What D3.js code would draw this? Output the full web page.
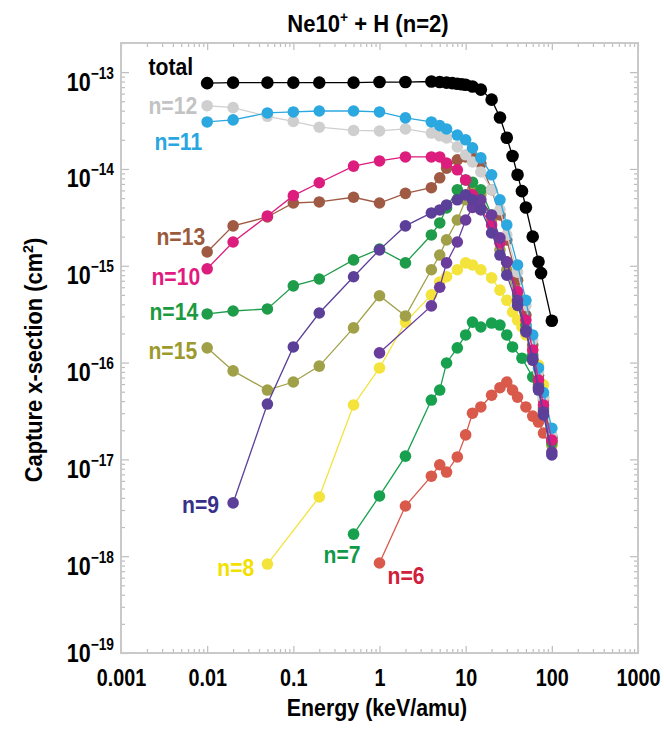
<!DOCTYPE html>
<html>
<head>
<meta charset="utf-8">
<script src="https://cdn.jsdelivr.net/npm/d3@7"></script>
<style>
  body { margin: 0; background: #fff; }
  svg text { font-family: "Liberation Sans", Arial, sans-serif; font-weight: bold; }
</style>
</head>
<body>
<svg id="chart"></svg>
<script>
// values (energy in keV/amu, cross-section in cm^2)
const eTotal = [0.01, 0.02, 0.05, 0.1, 0.2, 0.5, 1, 2, 4, 5, 6, 7, 8, 9, 10, 12, 15, 20, 25, 30, 35, 40, 45, 50, 60, 70, 75, 100];
const sTotal = [7.7e-14, 7.8e-14, 7.8e-14, 7.8e-14, 7.8e-14, 7.8e-14, 7.9e-14, 7.9e-14, 8.0e-14, 7.9e-14, 7.8e-14, 7.7e-14, 7.6e-14, 7.5e-14, 7.4e-14, 7.1e-14, 6.6e-14, 5.2e-14, 3.4e-14, 2.1e-14, 1.36e-14, 8.7e-15, 5.9e-15, 4.0e-15, 2.0e-15, 1.1e-15, 8.4e-16, 2.7e-16];

const eHigh = [0.01, 0.02, 0.05, 0.1, 0.2, 0.5, 1, 2, 4, 5, 6, 8, 10, 12, 15, 20, 25, 30, 40, 50, 60, 70, 80, 100];
const s12 = [4.5e-14, 4.3e-14, 3.5e-14, 3.1e-14, 2.7e-14, 2.5e-14, 2.47e-14, 2.59e-14, 2.35e-14, 2.2e-14, 2.09e-14, 1.69e-14, 1.4e-14, 1.18e-14, 9.3e-15, 6.1e-15, 3.8e-15, 2.08e-15, 8.6e-16, 3.9e-16, 1.71e-16, 8.0e-17, 4.3e-17, 1.79e-17];
const s11 = [3.06e-14, 3.21e-14, 3.79e-14, 3.88e-14, 3.97e-14, 3.97e-14, 3.88e-14, 3.37e-14, 3.06e-14, 2.8e-14, 2.59e-14, 2.24e-14, 2.0e-14, 1.65e-14, 1.3e-14, 8.7e-15, 4.8e-15, 2.64e-15, 1.02e-15, 4.4e-16, 1.93e-16, 8.8e-17, 4.9e-17, 2.1e-17];
const s10 = [9.3e-16, 1.76e-15, 3.27e-15, 5.3e-15, 7.2e-15, 1.07e-14, 1.21e-14, 1.33e-14, 1.33e-14, 1.33e-14, 1.15e-14, 9.8e-15, 7.7e-15, 5.4e-15, 3.8e-15, 2.64e-15, 1.72e-15, 1.09e-15, 5.4e-16, 2.75e-16, 1.35e-16, 6.6e-17, 3.65e-17, 1.58e-17];
const s13 = [1.39e-15, 2.58e-15, 3.19e-15, 4.45e-15, 4.56e-15, 5.1e-15, 4.45e-15, 5.6e-15, 6.4e-15, 8.1e-15, 1.02e-14, 1.24e-14, 1.33e-14, 1.3e-14, 1.13e-14, 6.1e-15, 3.35e-15, 1.85e-15, 7.1e-16, 3.1e-16, 1.52e-16, 7.4e-17, 4.1e-17, 1.66e-17];
const s14 = [3.18e-16, 3.41e-16, 3.58e-16, 6.2e-16, 7.3e-16, 1.15e-15, 1.49e-15, 1.07e-15, 2.08e-15, 2.77e-15, 3.95e-15, 6.1e-15, 7.7e-15, 7.3e-15, 6.1e-15, 3.35e-15, 1.85e-15, 1.09e-15, 5.0e-16, 2.44e-16, 1.2e-16, 5.9e-17, 3.4e-17, 1.51e-17];
const s15 = [1.42e-16, 8.2e-17, 5.2e-17, 6.3e-17, 9.2e-17, 2.28e-16, 4.9e-16, 3.03e-16, 9.1e-16, 1.29e-15, 1.85e-15, 2.97e-15, 4.8e-15, 6.1e-15, 5.4e-15, 2.97e-15, 1.46e-15, 9.1e-16, 4.2e-16, 2.17e-16, 1.06e-16, 5.5e-17, 3.24e-17, 1.41e-17];

const e9 = [0.02, 0.05, 0.1, 0.2, 0.5, 1, 2, 4, 5, 6, 8, 10, 12, 15, 20, 25, 30, 40, 50, 60, 70, 80, 100];
const s9 = [3.55e-18, 3.73e-17, 1.45e-16, 3.25e-16, 7.7e-16, 1.46e-15, 2.58e-15, 3.51e-15, 3.77e-15, 4.25e-15, 4.8e-15, 5.4e-15, 4.8e-15, 3.8e-15, 2.18e-15, 1.29e-15, 8.0e-16, 3.9e-16, 2.07e-16, 1.06e-16, 5.2e-17, 2.88e-17, 1.11e-17];

// unlabelled violet curve starting at 1 keV/amu
const eViolet = [1, 4, 5, 6, 8, 10, 12, 15, 20, 25, 30, 40, 50, 60, 70, 80, 100];
const sViolet = [1.26e-16, 3.85e-16, 6.0e-16, 1.07e-15, 1.76e-15, 2.97e-15, 4.0e-15, 4.8e-15, 3.35e-15, 1.94e-15, 1.09e-15, 4.4e-16, 2.17e-16, 1.11e-16, 5.5e-17, 3.09e-17, 1.19e-17];

const e8 = [0.05, 0.2, 0.5, 1, 2, 4, 5, 6, 8, 10, 12, 15, 20, 25, 30, 35, 40, 45, 50, 60, 70, 80, 100];
const s8 = [8.3e-19, 4.09e-18, 3.65e-17, 8.8e-17, 2.62e-16, 5.0e-16, 6.8e-16, 7.7e-16, 9.1e-16, 1.07e-15, 1.02e-15, 9.1e-16, 7.5e-16, 5.6e-16, 4.4e-16, 3.33e-16, 2.75e-16, 2.33e-16, 1.93e-16, 1.35e-16, 9.4e-17, 5.9e-17, 1.41e-17];

const e7 = [0.5, 1, 2, 4, 5, 6, 8, 10, 12, 15, 20, 25, 30, 35, 45, 60, 70, 80, 100];
const s7 = [1.69e-18, 4.19e-18, 1.08e-17, 4.1e-17, 5.2e-17, 9.9e-17, 1.42e-16, 1.93e-16, 2.62e-16, 2.33e-16, 2.56e-16, 2.44e-16, 1.93e-16, 1.45e-16, 1.11e-16, 7.1e-17, 6.6e-17, 4.4e-17, 1.7e-17];

const e6 = [1, 2, 4, 5, 6, 8, 10, 12, 15, 20, 25, 30, 35, 40, 50, 60, 70, 80, 100];
const s6 = [8.5e-19, 3.3e-18, 6.7e-18, 8.8e-18, 7.4e-18, 1.06e-17, 1.79e-17, 3.0e-17, 3.48e-17, 4.6e-17, 5.5e-17, 6.3e-17, 5.2e-17, 4.4e-17, 3.48e-17, 2.8e-17, 2.43e-17, 1.87e-17, 1.51e-17];

const xTickLabels = ["0.001", "0.01", "0.1", "1", "10", "100", "1000"];
const yExponents = [-19, -18, -17, -16, -15, -14, -13];

// drawing order: bottom first
const series = [
  {name: "n=6", energy: e6, sigma: s6},
  {name: "n=7", energy: e7, sigma: s7},
  {name: "n=8", energy: e8, sigma: s8},
  {name: "n=15", energy: eHigh, sigma: s15},
  {name: "n=14", energy: eHigh, sigma: s14},
  {name: "n=13", energy: eHigh, sigma: s13},
  {name: "n=12", energy: eHigh, sigma: s12},
  {name: "n=11", energy: eHigh, sigma: s11},
  {name: "n=10", energy: eHigh, sigma: s10},
  {name: "", energy: eViolet, sigma: sViolet, key: "violet"},
  {name: "n=9", energy: e9, sigma: s9},
  {name: "total", energy: eTotal, sigma: sTotal}
];

const pointColor = {
  "n=6": "#d9594b", "n=7": "#17a04e", "n=8": "#f3e33b", "n=15": "#a0a048",
  "n=14": "#1f9c4a", "n=13": "#a05a44", "n=12": "#cfcfcf", "n=11": "#2ba8df",
  "n=10": "#dc1d7e", "violet": "#6a3c9c", "n=9": "#5b3f98", "total": "#000"
};
const labelColor = {
  "n=6": "#d1203a", "n=7": "#109a48", "n=8": "#f2e000", "n=15": "#9c9a2c",
  "n=14": "#1c9a3f", "n=13": "#9b5a3b", "n=12": "#c3c3c3", "n=11": "#28a6df",
  "n=10": "#e2197f", "n=9": "#37308a", "total": "#000"
};
// label placement relative to the first point of each curve (pixels)
const labelOffset = {
  "total": [-14, -8, "end"], "n=12": [-10, 8, "end"], "n=11": [-5, 28, "end"],
  "n=13": [-2, -7, "end"], "n=10": [-7, 16, "end"], "n=14": [-9, 6, "end"],
  "n=15": [-10, 11, "end"], "n=9": [-14, 10, "end"], "n=8": [-13, 12, "end"],
  "n=7": [7, 29, "end"], "n=6": [8, 21, "start"]
};

const width = 664;
const height = 729;
const marginTop = 43;
const marginRight = 26;
const marginBottom = 76;
const marginLeft = 121;

const x = d3.scaleLog()
    .domain([0.001, 1000])
    .range([marginLeft, width - marginRight]);

const y = d3.scaleLog()
    .domain([1e-19, 2e-13])
    .range([height - marginBottom, marginTop]);

const svg = d3.select("#chart")
    .attr("width", width)
    .attr("height", height);

// horizontally squeezed text, the original lettering is a condensed face
function squeezed(px, py, sx, rotate) {
  return svg.append("g")
      .attr("transform", `translate(${px},${py})` + (rotate ? ` rotate(${rotate})` : "") + ` scale(${sx},1)`)
    .append("text");
}

// ticks, inside the frame on all four sides
const xMajor = xTickLabels.map(Number);
const xMinor = x.ticks().filter(d => !xMajor.includes(d));
const yMajor = yExponents.map(e => Math.pow(10, e));
const yMinor = y.ticks().filter(d => Math.abs(Math.log10(d) - Math.round(Math.log10(d))) > 1e-6);

const tickColor = "#bdbdbd";
function styleAxis(g) {
  g.select(".domain").remove();
  g.selectAll(".tick line").attr("stroke", tickColor).attr("stroke-width", 1.2);
}

const bottom = height - marginBottom;
const right = width - marginRight;

svg.append("g").attr("transform", `translate(0,${bottom})`)
    .call(d3.axisBottom(x).tickValues(xMinor).tickSize(-4).tickFormat(""))
    .call(styleAxis);
const gx = svg.append("g").attr("transform", `translate(0,${bottom})`)
    .call(d3.axisBottom(x).tickValues(xMajor).tickSize(-7).tickPadding(17).tickFormat((d, i) => xTickLabels[i]))
    .call(styleAxis);
gx.selectAll(".tick text")
    .attr("fill", "#000")
    .attr("font-size", 23)
    .attr("font-family", null)
    .attr("transform", "scale(0.86,1)");

svg.append("g").attr("transform", `translate(0,${marginTop})`)
    .call(d3.axisTop(x).tickValues(xMinor).tickSize(-4).tickFormat(""))
    .call(styleAxis);
svg.append("g").attr("transform", `translate(0,${marginTop})`)
    .call(d3.axisTop(x).tickValues(xMajor).tickSize(-7).tickFormat(""))
    .call(styleAxis);

svg.append("g").attr("transform", `translate(${marginLeft},0)`)
    .call(d3.axisLeft(y).tickValues(yMinor).tickSize(-4).tickFormat(""))
    .call(styleAxis);
const gy = svg.append("g").attr("transform", `translate(${marginLeft},0)`)
    .call(d3.axisLeft(y).tickValues(yMajor).tickSize(-8).tickPadding(7).tickFormat(""))
    .call(styleAxis);
gy.selectAll(".tick text")
    .attr("fill", "#000")
    .attr("font-size", 25)
    .attr("font-family", null)
    .attr("x", -7 / 0.86)
    .attr("dy", (d, i) => i === 0 ? 8 : 18)   // lowest label sits above the frame corner
    .attr("transform", "scale(0.86,1)")
    .call(t => {
      t.append("tspan").text("10");
      t.append("tspan").attr("dy", -12).attr("font-size", 16).text((d, i) => "\u2212" + (-yExponents[i]));
    });

svg.append("g").attr("transform", `translate(${right},0)`)
    .call(d3.axisRight(y).tickValues(yMinor).tickSize(-4).tickFormat(""))
    .call(styleAxis);
svg.append("g").attr("transform", `translate(${right},0)`)
    .call(d3.axisRight(y).tickValues(yMajor).tickSize(-8).tickFormat(""))
    .call(styleAxis);

// frame
svg.append("rect")
    .attr("x", marginLeft)
    .attr("y", marginTop)
    .attr("width", right - marginLeft)
    .attr("height", bottom - marginTop)
    .attr("fill", "none")
    .attr("stroke", "#c9c9c9")
    .attr("stroke-width", 2);

// curves
const line = d3.line()
    .x(d => x(d[0]))
    .y(d => y(d[1]));

for (const s of series) {
  const key = s.key || s.name;
  const pts = s.energy.map((e, i) => [e, s.sigma[i]]);
  const g = svg.append("g");
  g.append("path")
      .datum(pts)
      .attr("fill", "none")
      .attr("stroke", pointColor[key])
      .attr("stroke-width", 1.3)
      .attr("d", line);
  g.selectAll("circle")
    .data(pts)
    .join("circle")
      .attr("cx", d => x(d[0]))
      .attr("cy", d => y(d[1]))
      .attr("r", key === "total" ? 6.3 : 5.8)
      .attr("fill", pointColor[key]);
}

// curve labels
for (const s of series) {
  if (!s.name) continue;
  const [dx, dy, anchor] = labelOffset[s.name];
  squeezed(x(s.energy[0]) + dx, y(s.sigma[0]) + dy, 0.92)
      .attr("text-anchor", anchor)
      .attr("font-size", 23)
      .attr("fill", labelColor[s.name])
      .text(s.name);
}

// titles
const title = squeezed(368, 32, 0.92)
    .attr("text-anchor", "middle")
    .attr("font-size", 24);
title.append("tspan").text("Ne10");
title.append("tspan").attr("dy", -10).attr("font-size", 15).text("+");
title.append("tspan").attr("dy", 10).text(" + H (n=2)");

squeezed(377, 716, 0.89)
    .attr("text-anchor", "middle")
    .attr("font-size", 24)
    .text("Energy (keV/amu)");

const ylab = squeezed(42, 360, 0.95, -90)
    .attr("text-anchor", "middle")
    .attr("font-size", 23);
ylab.append("tspan").text("Capture x-section (cm");
ylab.append("tspan").attr("dy", -9).attr("font-size", 15).text("2");
ylab.append("tspan").attr("dy", 9).text(")");
</script>
</body>
</html>
